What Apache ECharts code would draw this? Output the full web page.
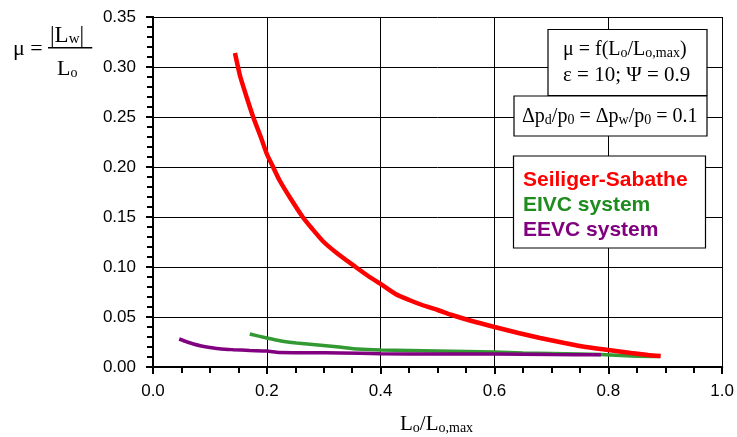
<!DOCTYPE html>
<html>
<head>
<meta charset="utf-8">
<script src="https://cdn.jsdelivr.net/npm/echarts@6/dist/echarts.min.js"></script>
<style>html,body{margin:0;padding:0;background:#fff}#c{width:737px;height:437px}</style>
</head>
<body>
<div id="c"></div>
<script>
// ---- data ----
var xTicks = [0.0, 0.2, 0.4, 0.6, 0.8, 1.0];
var yTicks = [0.00, 0.05, 0.10, 0.15, 0.20, 0.25, 0.30, 0.35];
var seriesNames = ['Seiliger-Sabathe', 'EIVC system', 'EEVC system'];
var sabX = [0.144,0.153,0.165,0.176,0.190,0.200,0.211,0.222,0.240,0.263,0.280,0.300,0.325,0.356,0.378,0.400,0.426,0.450,0.473,0.500,0.525,0.560,0.600,0.642,0.680,0.723,0.760,0.800,0.840,0.870,0.892];
var sabY = [0.314,0.291,0.269,0.250,0.229,0.213,0.200,0.187,0.170,0.150,0.138,0.125,0.113,0.100,0.091,0.083,0.073,0.067,0.062,0.057,0.052,0.046,0.040,0.034,0.029,0.024,0.020,0.017,0.014,0.012,0.011];
var eivcX = [0.170,0.200,0.225,0.252,0.290,0.327,0.360,0.400,0.450,0.500,0.550,0.600,0.650,0.700,0.750,0.787,0.840,0.890];
var eivcY = [0.033,0.029,0.026,0.024,0.022,0.020,0.018,0.017,0.0165,0.016,0.0155,0.015,0.014,0.0135,0.013,0.0125,0.011,0.0105];
var eevcX = [0.046,0.060,0.071,0.085,0.100,0.120,0.141,0.170,0.200,0.222,0.275,0.330,0.400,0.500,0.600,0.700,0.787];
var eevcY = [0.028,0.025,0.023,0.021,0.0195,0.018,0.0173,0.0165,0.016,0.0145,0.0143,0.014,0.0133,0.013,0.013,0.0125,0.0122];

function zip(a, b) { return a.map(function (v, i) { return [v, b[i]]; }); }
var colors = ['#ff0000', '#339933', '#800080'];
var serif = 'Liberation Serif, Times New Roman, serif';
var sans = 'Liberation Sans, Arial, sans-serif';

function subRich(main, sub, mlh, slh) {
  return {
    m: { fontFamily: serif, fontSize: main, fontWeight: 'normal', lineHeight: mlh, verticalAlign: 'bottom', color: '#000' },
    s: { fontFamily: serif, fontSize: sub, fontWeight: 'normal', lineHeight: slh, verticalAlign: 'bottom', color: '#000' }
  };
}
function box(x, y, w, h) {
  return { text: ' ', left: x, top: y, padding: [h / 2 - 0.5, w / 2, h / 2 - 0.5, w / 2],
           backgroundColor: '#fff', borderColor: '#000', borderWidth: 1.2, z: 10,
           textStyle: { fontSize: 1, lineHeight: 1, color: '#fff' } };
}
function label(txt, x, y, style) {
  style.fontWeight = style.fontWeight || 'normal';
  return { text: txt, left: x, top: y, padding: 0, z: 12, textStyle: style };
}

// axis used for the data, labels and gridlines
function mainAxis(isX) {
  return {
    type: 'value',
    position: isX ? 'bottom' : 'left',
    min: isX ? xTicks[0] : yTicks[0],
    max: isX ? xTicks[xTicks.length - 1] : yTicks[yTicks.length - 1],
    interval: isX ? 0.2 : 0.05,
    axisLine: { show: true, lineStyle: { color: '#000', width: 2 } },
    axisTick: { show: true, length: 7, lineStyle: { color: '#000', width: 2 } },
    minorTick: { show: true, splitNumber: isX ? 4 : 5, length: 6, lineStyle: { color: '#000', width: 2 } },
    splitLine: { show: true, lineStyle: { color: '#000', width: 1 } },
    axisLabel: { color: '#000', fontFamily: sans, fontSize: 17, margin: isX ? 16 : 17,
                 formatter: function (v) { return isX ? v.toFixed(1) : v.toFixed(2); } }
  };
}
// plain twin axis carrying only the axis line and tick marks
function tickAxis(isX) {
  return {
    type: 'value',
    position: isX ? 'bottom' : 'left',
    offset: 0,
    min: isX ? xTicks[0] : yTicks[0],
    max: isX ? xTicks[xTicks.length - 1] : yTicks[yTicks.length - 1],
    interval: isX ? 0.2 : 0.05,
    axisLine: { show: true, lineStyle: { color: '#000', width: 2 } },
    axisTick: { show: true, length: 7, lineStyle: { color: '#000', width: 2 } },
    minorTick: { show: true, splitNumber: isX ? 4 : 5, length: 6, lineStyle: { color: '#000', width: 2 } },
    splitLine: { show: false },
    axisLabel: { show: false }
  };
}

var chart = echarts.init(document.getElementById('c'));
chart.setOption({
  animation: false,
  grid: { left: 153, top: 17, right: 12, bottom: 70 },
  title: [
    // y-axis title: mu = |L_w| / L_o
    label('μ =', 13, 38, { fontFamily: serif, fontSize: 22, lineHeight: 22, color: '#000' }),
    label('{m||L}{s|w}{m||}', 50, 19, { rich: subRich(23, 15, 28, 14) }),
    { text: ' ', left: 48, top: 47, padding: [0.6, 22, 0, 22], backgroundColor: '#000', z: 12,
      textStyle: { fontSize: 1, lineHeight: 1, color: '#000' } },
    label('{m|L}{s|o}', 57, 54, { rich: subRich(22, 14, 26, 12) }),
    // x-axis title
    label('{m|L}{s|o}{m|/L}{s|o,max}', 400, 411, { rich: subRich(21, 14, 24, 12) }),
    // annotation boxes
    box(548, 29, 159, 67),
    label('{m|μ = f(L}{s|o}{m|/L}{s|o,max}{m|)}', 563, 36, { rich: subRich(20, 14, 24, 11) }),
    label('ε = 10; Ψ = 0.9', 563, 64, { fontFamily: serif, fontSize: 21, lineHeight: 22, color: '#000' }),
    box(514, 96, 193, 40),
    label('{m|Δp}{s|d}{m|/p}{s|0}{m| = Δp}{s|w}{m|/p}{s|0}{m| = 0.1}', 522, 103, { rich: subRich(20, 14, 24, 11) }),
    // legend box
    box(513, 156, 192, 92),
    label(seriesNames[0], 523, 168, { fontFamily: sans, fontSize: 21, lineHeight: 24, fontWeight: 'bold', color: colors[0] }),
    label(seriesNames[1], 523, 193, { fontFamily: sans, fontSize: 21, lineHeight: 24, fontWeight: 'bold', color: '#1e8c1e' }),
    label(seriesNames[2], 523, 218, { fontFamily: sans, fontSize: 21, lineHeight: 24, fontWeight: 'bold', color: colors[2] })
  ],
  xAxis: [mainAxis(true), tickAxis(true)],
  yAxis: [mainAxis(false), tickAxis(false)],
  series: [
    { name: seriesNames[1], type: 'line', xAxisIndex: 0, yAxisIndex: 0, data: zip(eivcX, eivcY), showSymbol: false, smooth: 0.2, lineStyle: { color: colors[1], width: 3.5 } },
    { name: seriesNames[2], type: 'line', xAxisIndex: 0, yAxisIndex: 0, data: zip(eevcX, eevcY), showSymbol: false, smooth: 0.2, lineStyle: { color: colors[2], width: 3.5 } },
    { name: seriesNames[0], type: 'line', xAxisIndex: 0, yAxisIndex: 0, data: zip(sabX, sabY), showSymbol: false, smooth: 0.2, lineStyle: { color: colors[0], width: 4.5 } }
  ]
});
</script>
</body>
</html>
